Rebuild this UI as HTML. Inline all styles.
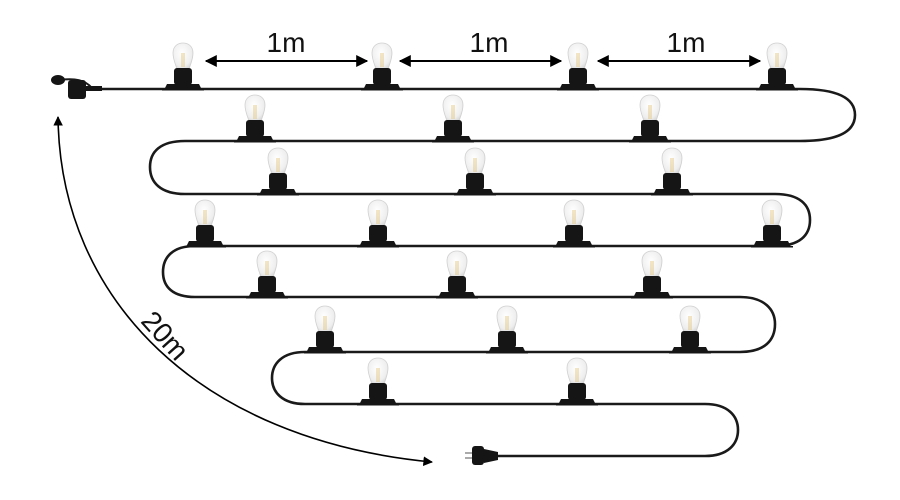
<!DOCTYPE html>
<html><head><meta charset="utf-8"><style>
html,body{margin:0;padding:0;background:#fff;}
svg{display:block}
text{font-family:"Liberation Sans","DejaVu Sans",sans-serif;fill:#111}
</style></head><body>
<svg width="900" height="500" viewBox="0 0 900 500" xmlns="http://www.w3.org/2000/svg">
<defs>
<radialGradient id="gl" cx="0.45" cy="0.4" r="0.7">
<stop offset="0" stop-color="#ffffff"/><stop offset="0.7" stop-color="#eeeeee"/><stop offset="1" stop-color="#cfcfcf"/>
</radialGradient>
<g id="b">
<path d="M-6,-20 C-8,-26 -10,-30 -10,-36 C-10,-43 -5,-46 0,-46 C5,-46 10,-43 10,-36 C10,-30 8,-26 6,-20 Z" fill="url(#gl)" stroke="#d0d0d0" stroke-width="0.8"/>
<path d="M-1,-22 L-1,-36 M1,-22 L1,-36" stroke="#e0c070" stroke-width="0.8"/>
<rect x="-9" y="-21" width="18" height="17" rx="3" fill="#151515"/>
<path d="M-19,1 L-16,-5 L16,-5 L19,1 Z" fill="#151515"/>
<rect x="-21" y="0" width="42" height="1.5" fill="#151515"/>
</g>
<marker id="ah" viewBox="0 0 10 10" refX="9" refY="5" markerWidth="6" markerHeight="6" orient="auto-start-reverse">
<path d="M0,0 L10,5 L0,10 Z" fill="#000"/></marker>
</defs>

<path d="M100,89 L800,89 C845,89 855,102 855,115 C855,128 845,141 800,141 L185,141 C160,141 150,152 150,167 C150,182 160,194 185,194 L775,194 C800,194 810,205 810,220 C810,235 800,246 775,246 L195,246 C173,246 163,257 163,272 C163,287 173,297 195,297 L740,297 C765,297 775,310 775,324 C775,340 765,352 740,352 L305,352 C282,352 272,364 272,378 C272,392 282,404 305,404 L705,404 C728,404 738,416 738,430 C738,444 728,456 705,456 L495,456" fill="none" stroke="#1a1a1a" stroke-width="2.6"/>

<path d="M60,80 C75,78 85,80 92,88" fill="none" stroke="#1a1a1a" stroke-width="2"/>
<ellipse cx="58" cy="80" rx="7" ry="5" fill="#151515"/>
<rect x="68" y="80" width="18" height="19" rx="3" fill="#151515"/>
<rect x="84" y="86" width="18" height="5" fill="#151515"/>

<rect x="465" y="452" width="8" height="2" fill="#aaa"/>
<rect x="465" y="457" width="8" height="2" fill="#aaa"/>
<rect x="472" y="446" width="12" height="19" rx="3" fill="#151515"/>
<path d="M484,449 L498,452 L498,460 L484,463 Z" fill="#151515"/>

<g>
<use href="#b" x="183" y="89"/><use href="#b" x="382" y="89"/><use href="#b" x="578" y="89"/><use href="#b" x="777" y="89"/>
<use href="#b" x="255" y="141"/><use href="#b" x="453" y="141"/><use href="#b" x="650" y="141"/>
<use href="#b" x="278" y="194"/><use href="#b" x="475" y="194"/><use href="#b" x="672" y="194"/>
<use href="#b" x="205" y="246"/><use href="#b" x="378" y="246"/><use href="#b" x="574" y="246"/><use href="#b" x="772" y="246"/>
<use href="#b" x="267" y="297"/><use href="#b" x="457" y="297"/><use href="#b" x="652" y="297"/>
<use href="#b" x="325" y="352"/><use href="#b" x="507" y="352"/><use href="#b" x="690" y="352"/>
<use href="#b" x="378" y="404"/><use href="#b" x="577" y="404"/>
</g>

<g stroke="#000" stroke-width="2" fill="none">
<line x1="206" y1="61" x2="367" y2="61" marker-start="url(#ah)" marker-end="url(#ah)"/>
<line x1="400" y1="61" x2="561" y2="61" marker-start="url(#ah)" marker-end="url(#ah)"/>
<line x1="598" y1="61" x2="760" y2="61" marker-start="url(#ah)" marker-end="url(#ah)"/>
<path d="M58,117 C60,300 200,440 432,462" marker-start="url(#ah)" marker-end="url(#ah)" stroke-width="1.6"/>
</g>
<text x="286" y="52" font-size="28" text-anchor="middle">1m</text>
<text x="489" y="52" font-size="28" text-anchor="middle">1m</text>
<text x="686" y="52" font-size="28" text-anchor="middle">1m</text>
<text x="158" y="342" font-size="28" text-anchor="middle" transform="rotate(48 158 342)">20m</text>
</svg>
</body></html>
